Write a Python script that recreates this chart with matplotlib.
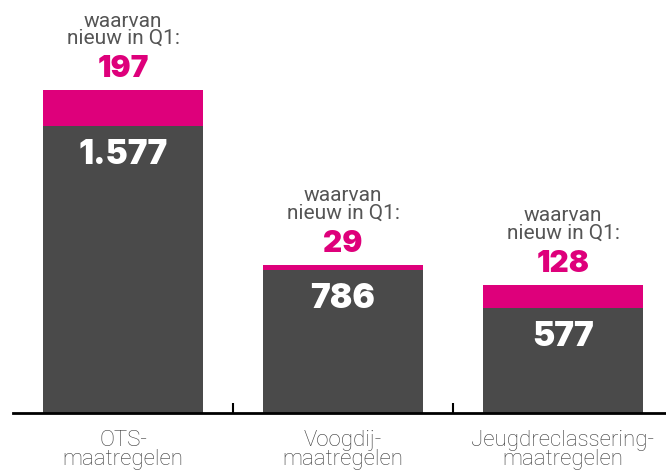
import matplotlib
matplotlib.use("Agg")
import matplotlib.pyplot as plt

# gegevens
categories = ["OTS-\nmaatregelen", "Voogdij-\nmaatregelen", "Jeugdreclassering-\nmaatregelen"]
totaal_oud = [1577, 786, 577]
nieuw_q1 = [197, 29, 128]

grijs = "#4a4a4a"
magenta = "#de007b"
tekstgrijs = "#555555"

fig = plt.figure(figsize=(6.66, 4.73), dpi=100)
ax = fig.add_axes([13 / 666, 60 / 473, 653 / 666, 413 / 473])

x = list(range(len(categories)))
ax.bar(x, totaal_oud, width=0.725, color=grijs)
ax.bar(x, nieuw_q1, width=0.725, bottom=totaal_oud, color=magenta)

def fmt(v):
    return f"{v:,}".replace(",", ".")

for i in x:
    top = totaal_oud[i] + nieuw_q1[i]
    # getal in de grijze balk
    ax.annotate(fmt(totaal_oud[i]), (i, totaal_oud[i]), xytext=(0, -38),
                textcoords="offset pixels", ha="center", va="baseline",
                color="white", fontsize=24, family="Inter", fontweight=900)
    # nieuw in Q1
    ax.annotate(fmt(nieuw_q1[i]), (i, top), xytext=(0, 13),
                textcoords="offset pixels", ha="center", va="baseline",
                color=magenta, fontsize=21.5, family="Inter", fontweight=900)
    ax.annotate("waarvan\nnieuw in Q1:", (i, top), xytext=(0, 42),
                textcoords="offset pixels", ha="center", va="bottom",
                color=tekstgrijs, fontsize=15, family="Roboto",
                fontweight="normal", linespacing=0.9)

ax.set_xlim(-0.5, 2.468)
ax.set_ylim(0, 413 / 0.182)

for s in ["top", "right", "left"]:
    ax.spines[s].set_visible(False)
ax.spines["bottom"].set_linewidth(2)
ax.spines["bottom"].set_color("black")
ax.set_yticks([])

ax.set_xticks([0.5, 1.5])
ax.set_xticklabels([])
ax.tick_params(axis="x", direction="in", length=7, width=1.5, color="black")
ax.set_xticks(x, minor=True)
ax.set_xticklabels(categories, minor=True, fontsize=16, family="Roboto",
                   fontweight="light", color="#3a3a3a", linespacing=0.9)
ax.tick_params(axis="x", which="minor", length=0, pad=12)

fig.savefig("out.png", dpi=100)
